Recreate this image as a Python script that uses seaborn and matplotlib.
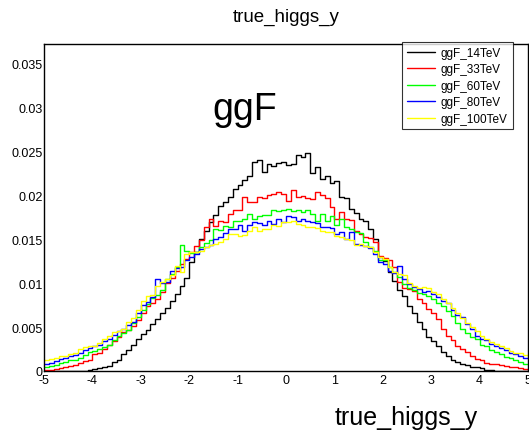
import numpy as np
import pandas as pd
import matplotlib
matplotlib.use("Agg")
import matplotlib.pyplot as plt
from matplotlib.lines import Line2D
from matplotlib.ticker import MultipleLocator
import seaborn as sns

# ---------------- data ----------------
samples = ["ggF_14TeV", "ggF_33TeV", "ggF_60TeV", "ggF_80TeV", "ggF_100TeV"]
colors = ["#000000", "#ff0000", "#00ff00", "#0000ff", "#ffff00"]
x_min, x_max, n_bins = -5.0, 5.0, 100

ggF_14TeV = [
    0, 0, 0, 0, 0, 0, 0, 0, 0, 0.0001,
    0.0002, 0.0003, 0.0005, 0.0006, 0.0010, 0.0013, 0.0019, 0.0024, 0.0030, 0.0036,
    0.0042, 0.0047, 0.0053, 0.0059, 0.0066, 0.0072, 0.0080, 0.0088, 0.0097, 0.0106,
    0.0124, 0.0135, 0.0150, 0.0160, 0.0170, 0.0178, 0.0188, 0.0192, 0.0198, 0.0207,
    0.0212, 0.0218, 0.0222, 0.0238, 0.0240, 0.0227, 0.0236, 0.0234, 0.0237, 0.0238,
    0.0235, 0.0236, 0.0246, 0.0244, 0.0248, 0.0226, 0.0232, 0.0219, 0.0222, 0.0214,
    0.0217, 0.0198, 0.0197, 0.0185, 0.0180, 0.0173, 0.0171, 0.0162, 0.0150, 0.0130,
    0.0125, 0.0113, 0.0103, 0.0092, 0.0085, 0.0074, 0.0066, 0.0056, 0.0048, 0.0039,
    0.0034, 0.0029, 0.0022, 0.0017, 0.0012, 0.0010, 0.0008, 0.0007, 0.0005, 0.0004,
    0.0003, 0.0001, 0.0001, 0, 0, 0, 0, 0, 0, 0,
]
ggF_33TeV = [
    0.0001, 0.0001, 0.0002, 0.0003, 0.0004, 0.0006, 0.0007, 0.0009, 0.0011, 0.0013,
    0.0019, 0.0021, 0.0025, 0.0030, 0.0034, 0.0039, 0.0044, 0.0047, 0.0051, 0.0058,
    0.0066, 0.0074, 0.0078, 0.0082, 0.0090, 0.0100, 0.0106, 0.0114, 0.0122, 0.0128,
    0.0135, 0.0142, 0.0149, 0.0164, 0.0173, 0.0165, 0.0171, 0.0170, 0.0179, 0.0183,
    0.0183, 0.0198, 0.0193, 0.0192, 0.0198, 0.0197, 0.0201, 0.0202, 0.0204, 0.0202,
    0.0194, 0.0206, 0.0198, 0.0199, 0.0197, 0.0196, 0.0204, 0.0200, 0.0197, 0.0187,
    0.0173, 0.0181, 0.0173, 0.0172, 0.0160, 0.0156, 0.0153, 0.0151, 0.0147, 0.0131,
    0.0129, 0.0126, 0.0119, 0.0101, 0.0094, 0.0093, 0.0091, 0.0082, 0.0078, 0.0071,
    0.0066, 0.0059, 0.0048, 0.0040, 0.0035, 0.0029, 0.0025, 0.0022, 0.0017, 0.0014,
    0.0012, 0.0009, 0.0008, 0.0008, 0.0007, 0.0006, 0.0005, 0.0004, 0.0003, 0.0002,
]
ggF_60TeV = [
    0.0005, 0.0006, 0.0007, 0.0009, 0.0010, 0.0012, 0.0013, 0.0015, 0.0018, 0.0022,
    0.0023, 0.0025, 0.0027, 0.0030, 0.0035, 0.0040, 0.0043, 0.0047, 0.0055, 0.0062,
    0.0070, 0.0076, 0.0083, 0.0087, 0.0092, 0.0105, 0.0111, 0.0118, 0.0143, 0.0137,
    0.0134, 0.0136, 0.0141, 0.0146, 0.0149, 0.0162, 0.0161, 0.0165, 0.0164, 0.0171,
    0.0171, 0.0173, 0.0179, 0.0173, 0.0177, 0.0178, 0.0178, 0.0183, 0.0182, 0.0183,
    0.0184, 0.0182, 0.0183, 0.0181, 0.0183, 0.0179, 0.0171, 0.0179, 0.0171, 0.0176,
    0.0166, 0.0173, 0.0164, 0.0162, 0.0158, 0.0157, 0.0147, 0.0141, 0.0137, 0.0127,
    0.0126, 0.0118, 0.0113, 0.0107, 0.0099, 0.0095, 0.0092, 0.0089, 0.0088, 0.0086,
    0.0082, 0.0078, 0.0074, 0.0068, 0.0063, 0.0055, 0.0048, 0.0043, 0.0039, 0.0037,
    0.0030, 0.0028, 0.0024, 0.0022, 0.0019, 0.0016, 0.0015, 0.0012, 0.0010, 0.0008,
]
ggF_80TeV = [
    0.0008, 0.0009, 0.0011, 0.0014, 0.0015, 0.0017, 0.0018, 0.0021, 0.0024, 0.0026,
    0.0028, 0.0030, 0.0034, 0.0037, 0.0041, 0.0045, 0.0048, 0.0052, 0.0056, 0.0066,
    0.0075, 0.0079, 0.0084, 0.0105, 0.0100, 0.0101, 0.0114, 0.0117, 0.0119, 0.0126,
    0.0130, 0.0133, 0.0139, 0.0141, 0.0143, 0.0150, 0.0153, 0.0157, 0.0162, 0.0162,
    0.0166, 0.0160, 0.0166, 0.0170, 0.0169, 0.0166, 0.0171, 0.0168, 0.0173, 0.0170,
    0.0176, 0.0175, 0.0171, 0.0173, 0.0171, 0.0170, 0.0169, 0.0164, 0.0164, 0.0163,
    0.0156, 0.0158, 0.0150, 0.0158, 0.0145, 0.0143, 0.0142, 0.0140, 0.0133, 0.0124,
    0.0122, 0.0114, 0.0112, 0.0120, 0.0105, 0.0099, 0.0096, 0.0093, 0.0090, 0.0091,
    0.0088, 0.0084, 0.0080, 0.0078, 0.0069, 0.0064, 0.0061, 0.0054, 0.0048, 0.0040,
    0.0037, 0.0035, 0.0031, 0.0029, 0.0026, 0.0024, 0.0021, 0.0019, 0.0017, 0.0015,
]
ggF_100TeV = [
    0.0012, 0.0014, 0.0015, 0.0017, 0.0017, 0.0019, 0.0021, 0.0025, 0.0027, 0.0028,
    0.0029, 0.0032, 0.0036, 0.0040, 0.0044, 0.0046, 0.0048, 0.0056, 0.0060, 0.0070,
    0.0080, 0.0086, 0.0087, 0.0097, 0.0101, 0.0105, 0.0109, 0.0120, 0.0113, 0.0133,
    0.0136, 0.0135, 0.0137, 0.0141, 0.0143, 0.0145, 0.0147, 0.0150, 0.0156, 0.0156,
    0.0154, 0.0155, 0.0160, 0.0164, 0.0160, 0.0162, 0.0162, 0.0166, 0.0165, 0.0170,
    0.0170, 0.0171, 0.0168, 0.0166, 0.0164, 0.0164, 0.0163, 0.0160, 0.0158, 0.0158,
    0.0154, 0.0153, 0.0150, 0.0149, 0.0143, 0.0145, 0.0142, 0.0141, 0.0136, 0.0130,
    0.0128, 0.0119, 0.0113, 0.0111, 0.0109, 0.0100, 0.0097, 0.0094, 0.0096, 0.0095,
    0.0090, 0.0088, 0.0082, 0.0077, 0.0072, 0.0066, 0.0060, 0.0055, 0.0050, 0.0046,
    0.0040, 0.0037, 0.0033, 0.0031, 0.0028, 0.0026, 0.0023, 0.0021, 0.0020, 0.0018,
]

title = "true_higgs_y"
x_title = "true_higgs_y"
label_text = "ggF"
x_ticks = [-5, -4, -3, -2, -1, 0, 1, 2, 3, 4, 5]
y_ticks = [0, 0.005, 0.01, 0.015, 0.02, 0.025, 0.03, 0.035]
y_tick_labels = ["0", "0.005", "0.01", "0.015", "0.02", "0.025", "0.03", "0.035"]

# ---------------- build long table ----------------
edges = np.linspace(x_min, x_max, n_bins + 1)
centers = 0.5 * (edges[:-1] + edges[1:])
series = [ggF_14TeV, ggF_33TeV, ggF_60TeV, ggF_80TeV, ggF_100TeV]
df = pd.concat(
    [pd.DataFrame({"x": centers, "w": vals, "sample": name})
     for name, vals in zip(samples, series)],
    ignore_index=True,
)

# ---------------- style ----------------
sns.set_style("white")
plt.rcParams["font.family"] = ["Liberation Sans", "DejaVu Sans"]
plt.rcParams["text.color"] = "#000000"
plt.rcParams["xtick.color"] = "#000000"
plt.rcParams["ytick.color"] = "#000000"

W, H = 529, 435
fig = plt.figure(figsize=(W / 100, H / 100), dpi=100)
ax = fig.add_axes([44 / W, 1 - 372 / H, (528 - 44) / W, (372 - 45) / H])

for name, col in zip(samples, colors):
    sns.histplot(
        data=df[df["sample"] == name], x="x", weights="w",
        bins=n_bins, binrange=(x_min, x_max),
        element="step", fill=False, color=col, linewidth=1.0, ax=ax,
    )

ax.set_xlim(x_min, x_max)
ax.set_ylim(0, 0.03725)
ax.set_xlabel("")
ax.set_ylabel("")

ax.set_xticks(x_ticks)
ax.set_xticklabels([str(t) for t in x_ticks])
ax.set_yticks(y_ticks)
ax.set_yticklabels(y_tick_labels)
ax.xaxis.set_minor_locator(MultipleLocator(0.2))
ax.yaxis.set_minor_locator(MultipleLocator(0.001))
ax.tick_params(axis="both", which="both", direction="in", top=False, right=False,
               colors="#000000", labelsize=9, labelcolor="#000000")
ax.tick_params(axis="y", which="major", length=15, width=1, pad=1)
ax.tick_params(axis="y", which="minor", length=7, width=1)
ax.tick_params(axis="x", which="major", length=10, width=1, pad=2)
ax.tick_params(axis="x", which="minor", length=5, width=1)
for s in ax.spines.values():
    s.set_color("#000000")
    s.set_linewidth(1.0)

# texts
fig.text(286 / W, 1 - 17 / H, title, ha="center", va="center", fontsize=13.5,
         color="#000000")
fig.text(478 / W, 1 - 418 / H, x_title, ha="right", va="center", fontsize=18,
         color="#000000")
ax.text(-1.52, 0.0287, label_text, fontsize=27, ha="left", va="baseline",
        color="#000000")

# legend
handles = [Line2D([0], [0], color=c, lw=1.0) for c in colors]
leg = fig.legend(
    handles, samples, loc="upper left", bbox_to_anchor=(402 / W, 1 - 43 / H),
    fontsize=8.5, frameon=True, fancybox=False, borderpad=0.4,
    handlelength=2.4, handletextpad=0.5, labelspacing=0.38, borderaxespad=0,
)
leg.get_frame().set_edgecolor("#000000")
leg.get_frame().set_linewidth(0.8)
for t in leg.get_texts():
    t.set_color("#000000")

fig.savefig("out.png", dpi=100)
